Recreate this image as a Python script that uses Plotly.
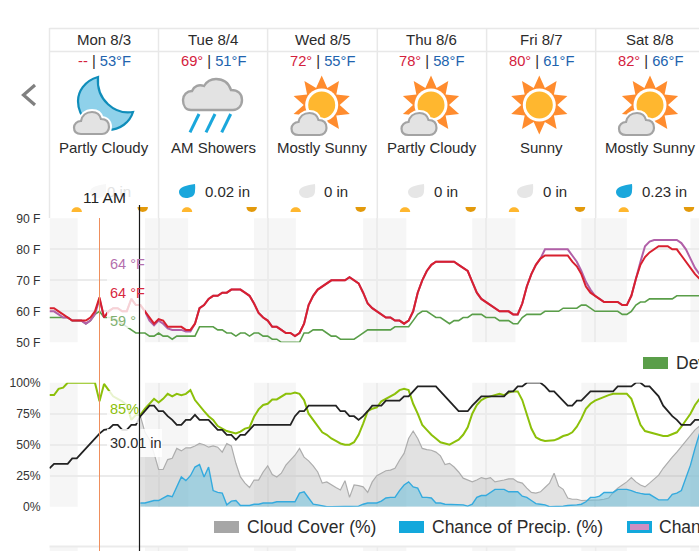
import math, re
import plotly.graph_objects as go

W, H = 699, 551
PX_PER_HOUR = 109.1 / 24
X0 = 49.5
FONT = "Liberation Sans, Arial, sans-serif"
INK = "#2b2b2b"

days = ["Mon 8/3", "Tue 8/4", "Wed 8/5", "Thu 8/6", "Fri 8/7", "Sat 8/8"]
highs = ["--", "69°", "72°", "78°", "80°", "82°"]
lows = ["53°F", "51°F", "55°F", "58°F", "61°F", "66°F"]
conditions = ["Partly Cloudy", "AM Showers", "Mostly Sunny", "Partly Cloudy", "Sunny", "Mostly Sunny"]
precip_totals = ["0 in", "0.02 in", "0 in", "0 in", "0 in", "0.23 in"]

temp_ticks = [50, 60, 70, 80, 90]
temp_labels = ["50 F", "60 F", "70 F", "80 F", "90 F"]
pct_ticks = [0, 25, 50, 75, 100]
pct_labels = ["0%", "25%", "50%", "75%", "100%"]

temperature = [61,61,60,59,58,57,57,57,57,58,60,64.5,58,60,61,61,60,60,64,62,62,60,58,56,57.5,57,55,55,55,55,54,54,56,61,62,64,65,65,66,66,
               67,67,67,66,65,62.5,59.5,58,57,55,55,54,53,53,52,53,56,62,65,67,68,69,70,70,70,70,71,70,69,66,62.5,61,60,59,58,58,57,57,56,57,
               60,66,70,73,75,76,76,76,76,76,75,74,73,69.5,66,64,63,62,61,60,60,60,59,59,62.5,68,72,75,77,78,78,78,78,78,78,76,74.5,72,68,66,
               65,64,63,63,63,63,62,62,65,70.5,75,77.5,79,80,81,81,81,80,80,78,76,74,72,70.5]
heat_index = [60,60,59,58,58,57,57,57,56,57,59,64,58,60,61,61,60,60,64,62,62,60,57,55.5,57,56,54.5,54,54,54,53.5,53.5,56,61,62,64,65,65,66,66,
              67,67,67,66,65,62.5,59.5,58,57,55,55,54,53,53,52,53,56,62,65,67,68,69,70,70,70,70,71,70,69,66,62.5,61,60,59,58,58,57,57,56,57,
              60,66,70,73,75,76,76,76,76,76,75,74,73,69.5,66,64,63,62,61,60,60,60,59,59,62.5,68,72,75,77,80,80,80,80,80,80,78,76,73,69.5,67,
              65,64,63,63,63,63,62,62,65,71,76,81,82.5,83,83,83,83,83,83,82,80,77,74,72]
dew_point = [58,58,58,58,58,57,57,57,56,57,59,60,58,58,58,57,56,55,54,53,53,53,52,52,53,52,52,51,52,52,52,52,52,55,55,55,55,54,54,53,
             53,52,53,53,52,53,53,52,52,51,51,50,50,50,50,50,53,53,54,54,54,53,52,52,51,51,51,51,52,53,54,54,54,54,54,54,55,55,55,55,
             57,59,60,60,59,58,58,57,56,57,57,58,58,59,59,59,58,58,58,57,57,57,56,56,58,59,59,59,59,60,60,60,60,61,61,61,61,62,62,61,
             60,60,60,60,60,60,59,59,60,62,63,63,64,64,64,64,64,64,65,65,65,65,65,65]
humidity = [90,90,95,96,100,100,100,100,100,100,100,85,99,94,89,87,85,82,70,74,74,79,83,87,84,87,91,89,91,90,91,94,86,81,77,73,70,65,63,61,
            60,59,60.5,63,64,72.5,78.5,82,83,86.5,86.5,89,91,91,92,91,86,75,70,65,60,58,55,53,51,50,50,52,58,67,77,79,80,85,87,89,91,94,95,94,
            83,75,66,62,58,55,52,51,50,52,54,58,64,75,82,86,88,89,90,91,90,92,93,93,86,75,63,56,54,53,53.5,53.5,55,57,58,60,64.5,71,79,83,
            85.5,87,89,90,91,91,91.5,91,87,77,66,61,60,58.5,58,57,57,58.5,60,64.5,70,75,82,87]
pressure_scaled = [31,34.5,34.5,34.5,34.5,39,39,43,47,51,55,59,62,62.5,66,66,62,62,66,66,73,77,81.5,81.5,77,77,73,70,66,66,70,70,74,70,70,70,66,62,62,58,
                   58,54,58,58,62,66,66,66,66,66,66,66,66,66,73,77,77,81.5,81.5,81.5,81.5,81.5,81.5,81.5,77,77,73,73,70,73,77,81.5,81.5,81.5,85.5,85.5,85.5,85.5,89,89,
                   93,97,97,97,97,97,93,89,85.5,81.5,77,77,77,81.5,85.5,89,89,89,89,89,89,93,93,97,97,100,100,100,100,97,93,93,89,85.5,81.5,81.5,85.5,85.5,89,93,
                   93,93,93,93,93,97,97,97,97,100,100,97,97,93,89,81.5,77,73,70,66,66,66,70,70]
forecast_start_hour = 20
cloud_cover = [73,60,54,43,30,30,38,39,47,45,47.5,47.5,49,51,50,48,49,48,44,51,49,35,24,19,15.5,21.5,21.5,28,33,26,24,27,33.5,37.5,41.5,47,40,37,33,28,19,20,17.5,15.5,13.5,21,7.5,17.5,17,16,11.5,20,25,27,29,29.5,31,37.5,43,55,61,55,47,46,45.5,44,41,34,35,32,28,23,21.5,20,21.5,23.5,22.5,23.5,20,20.5,21.5,22.5,22.5,20,19,15,11.5,11,12,15.5,19,27,16.5,14,7,6,6,5,5,5,5,5.5,6,7,11.5,15,17.5,20,23.5,20,17.5,16,19,22,25.5,31,36,40,44,48.5,53,58,62,65]
precip_chance = [3,3,4,5,5,7,9,8,16,24,21,25,32,34,24,32,13,11.5,11,1.5,4.5,5,1,1,1,2,2,3,3,3,4,4,4,4,4,11,12,7,2,1.5,0.5,0,0,0,0,0,0,0,0.5,2,3,3,3,4.5,7,7.5,7.5,13,17.5,20,16,15,7.5,7.5,7,3,3,2,2,2,2,1.5,0.5,2,7.5,9,9,11.5,14,14,14,12,12,12,8.5,7.5,5,2.5,2,1.5,0,0,0,0.5,1,1,1.5,2,4,7.5,7.5,8.5,11.5,11.5,11.5,14,14,14,13,11.5,10.7,10,10,8,5.5,5.5,5.5,10,11,13,24,33.5,47,59]
night_bands = [(0, 6.2), (21, 30.5), (45, 54.2), (69, 78.5), (93, 102.5), (117, 127), (141, 150)]
sunrise_x = [76.7, 187, 295.7, 405, 514, 623.7]
sunset_x = [142.7, 251.7, 360.7, 470.7, 580, 689]

hours = list(range(len(temperature)))
cloud_hours = [forecast_start_hour + i for i in range(len(cloud_cover))]
precip_hours = [forecast_start_hour + i for i in range(len(precip_chance))]

px = lambda x: x / W
py = lambda y: 1 - y / H


def paper_path(d):
    flag = [0]
    def repl(m):
        v = float(m.group(0))
        flag[0] += 1
        return f"{px(v):.5f}" if flag[0] % 2 else f"{py(v):.5f}"
    return re.sub(r"-?\d+\.?\d*", repl, d)


shapes = []
annotations = []


def add_path(d, fill="rgba(0,0,0,0)", line=None, width=0, layer="above"):
    shapes.append(dict(type="path", xref="paper", yref="paper", path=paper_path(d), fillcolor=fill,
                       line=dict(color=line or "rgba(0,0,0,0)", width=width), layer=layer))


def add_rect(x0, y0, x1, y1, fill, layer="above", opacity=1):
    shapes.append(dict(type="rect", xref="paper", yref="paper", x0=px(x0), x1=px(x1), y0=py(y1), y1=py(y0),
                       fillcolor=fill, line=dict(width=0), layer=layer, opacity=opacity))


def add_line(x0, y0, x1, y1, color, width, layer="above"):
    shapes.append(dict(type="line", xref="paper", yref="paper", x0=px(x0), x1=px(x1), y0=py(y0), y1=py(y1),
                       line=dict(color=color, width=width), layer=layer))


def add_text(x, y, text, size=14.5, color=INK, anchor="center"):
    annotations.append(dict(xref="paper", yref="paper", x=px(x), y=py(y), text=text, showarrow=False, xanchor=anchor,
                            yanchor="middle", font=dict(family=FONT, size=size, color=color), borderpad=0, align=anchor))


def small_cloud(x, y):
    a = [(8,23),(3,23),(1,20),(1,16.5),(1,13),(4,10),(8,10),(9,5),(13,1),(19,1),(24,1),(27,4),(28,8),(33,8),(36,11),(36,16),(36,20),(33,23),(29,23)]
    p = [(x + u - 1, y + v - 1) for u, v in a]
    d = f"M{p[0][0]},{p[0][1]}"
    for i in range(1, len(p), 3):
        d += f" C{p[i][0]},{p[i][1]} {p[i+1][0]},{p[i+1][1]} {p[i+2][0]},{p[i+2][1]}"
    d += " Z"
    add_path(d, fill="#ffffff", line="#ffffff", width=6)
    add_path(d, fill="#e3e3e3", line="#a3a3a3", width=2.2)


def sun(cx, cy):
    pts = []
    for i in range(20):
        r = 29.5 if i % 2 == 0 else 18
        t = math.radians(18 * i)
        pts.append((cx + r * math.sin(t), cy - r * math.cos(t)))
    add_path("M" + " L".join(f"{a:.1f},{b:.1f}" for a, b in pts) + " Z", fill="#ff8c2e")
    shapes.append(dict(type="circle", xref="paper", yref="paper", x0=px(cx-16.5), x1=px(cx+16.5), y0=py(cy+16.5), y1=py(cy-16.5),
                       fillcolor="#ffffff", line=dict(width=0), layer="above"))
    shapes.append(dict(type="circle", xref="paper", yref="paper", x0=px(cx-13.5), x1=px(cx+13.5), y0=py(cy+13.5), y1=py(cy-13.5),
                       fillcolor="#ffb72f", line=dict(width=0), layer="above"))


def drop(x, y, color):
    add_path(f"M{x+16},{y} C{x+16.5},{y+4} {x+16},{y+6} {x+16},{y+7} C{x+16},{y+12} {x+12},{y+14} {x+7},{y+14} "
             f"C{x+3},{y+14} {x},{y+11} {x},{y+8} C{x},{y+3} {x+8},{y+1} {x+16},{y} Z", fill=color)


for lo, hi in night_bands:
    shapes.append(dict(type="rect", xref="x", yref="y domain", x0=lo, x1=hi, y0=0, y1=1,
                       fillcolor="#f6f6f6", line=dict(width=0), layer="below"))
    shapes.append(dict(type="rect", xref="x2", yref="y2 domain", x0=lo, x1=hi, y0=0, y1=1,
                       fillcolor="#f6f6f6", line=dict(width=0), layer="below"))
    shapes.append(dict(type="rect", xref="x", yref="paper", x0=lo, x1=hi, y0=0, y1=py(547),
                       fillcolor="#f6f6f6", line=dict(width=0), layer="below"))

day_edges = [49.5, 158.5, 267.6, 377.3, 486.6, 595.7]
add_line(49.5, 28.5, 699, 28.5, "#e8e8e8", 1.5, "below")
add_line(49.5, 51.5, 699, 51.5, "#e8e8e8", 1.5, "below")
for e in day_edges:
    add_line(e, 28, e, 218, "#e8e8e8", 1.5, "below")
for e in day_edges[1:]:
    add_line(e, 547, e, 551, "#ececec", 1.5, "below")
add_line(49.5, 546.5, 699, 546.5, "#ebebeb", 2, "below")

add_path("M35,85 L23.5,95 L35,105", line="#808080", width=3.2)

centers = [104, 213, 322.5, 431.5, 541, 650]
for c, d, hi, lo, cond in zip(centers, days, highs, lows, conditions):
    add_text(c, 39.5, d, size=15)
    add_text(c, 61.5, f'<span style="color:#d4213d">{hi}</span> | <span style="color:#2163ae">{lo}</span>', size=14.7)
    add_text(c, 147.3, cond, size=15)

add_path("M98,77 C84,81 78,92 78,101 C78,118 93,130 108,130 C120,130 130,122 133,112 C115,115 96,100 98,77 Z",
         fill="#8fd1ea", line="#0f8dba", width=2.2)
small_cloud(74, 112)

add_path("M191,110 C186,110 183,106 183,100 C183,95 187,91 192,91 C194,86 199,84 204,86 C207,81 212,79 216,79 "
         "C224,79 229,84 231,90 C238,90 242,94 242,100 C242,106 238,110 233,110 Z", fill="#e3e3e3", line="#a3a3a3", width=2.4)
for x in (199, 215, 230.7):
    add_line(x, 114, x - 9, 132.3, "#1aa7dc", 3)

sun(321.7, 105); small_cloud(291.5, 113)
sun(431, 105); small_cloud(401.5, 113)
sun(539.3, 105)
sun(650, 105); small_cloud(619, 113)

drop_x = [90, 179, 299, 408, 517, 616]
text_x = [106, 204, 323.3, 432.7, 541.7, 640.7]
for i, (dx, tx, t) in enumerate(zip(drop_x, text_x, precip_totals)):
    filled = t != "0 in"
    faded = i == 0
    drop(dx, 184, "#f7f7f7" if faded else ("#1aa7dc" if filled else "#e6e6e6"))
    add_text(tx, 191.5, t, size=15, anchor="left", color="#e2e2e2" if faded else INK)

for x in sunrise_x:
    add_path(f"M{x-5.2},212 C{x-5.2},205.5 {x+5.2},205.5 {x+5.2},212 Z", fill="#ffb72f")
for x in sunset_x:
    add_path(f"M{x-5.2},207 C{x-5.2},213.5 {x+5.2},213.5 {x+5.2},207 Z", fill="#e39a0b")

add_rect(107, 255, 145, 328, "#ffffff", opacity=0.8)
add_rect(107, 391, 140, 423, "#ffffff", opacity=0.8)
add_rect(107, 429, 162, 457, "#ffffff", opacity=0.85)

add_line(99.5, 218, 99.5, 551, "#ef8f5d", 1)
add_line(139.5, 205, 139.5, 551, "#1a1a1a", 1.2)

add_text(104.5, 197, "11 AM", size=15.5, color="#222222")
add_text(109, 264, "64 °F", size=14.5, color="#b46fae", anchor="left")
add_text(109, 293, "64 °F", size=14.5, color="#d8283f", anchor="left")
add_text(109, 321, "59 °", size=14.5, color="#7fb06f", anchor="left")
add_text(109, 409, "85%", size=14.5, color="#8cc00a", anchor="left")
add_text(109, 443, "30.01 in", size=14.5, color="#2b2b2b", anchor="left")

add_rect(643, 357, 668, 369, "#5a9e49")
add_text(675, 363, "Dew Point (°F)", size=17.5, anchor="left")
add_rect(214, 521, 239, 533, "#a6a6a6")
add_text(245.7, 527, "Cloud Cover (%)", size=17.5, anchor="left")
add_rect(399, 521, 424, 533, "#13a8dc")
add_text(431, 527, "Chance of Precip. (%)", size=17.5, anchor="left")
add_rect(627, 521, 652, 533, "#13a8dc")
add_rect(630, 524, 649, 530, "#cf8fc2")
add_text(658, 527, "Chance of Precip. (in)", size=17.5, anchor="left")

fig = go.Figure()
common = dict(mode="lines", hoverinfo="skip", showlegend=False, cliponaxis=False)
fig.add_trace(go.Scatter(x=hours, y=dew_point, name="Dew Point", line=dict(color="#5a9e49", width=1.6), xaxis="x", yaxis="y", **common))
fig.add_trace(go.Scatter(x=hours, y=heat_index, name="Heat Index", line=dict(color="#b160a8", width=2), xaxis="x", yaxis="y", **common))
fig.add_trace(go.Scatter(x=hours, y=temperature, name="Temperature", line=dict(color="#d8202f", width=2), xaxis="x", yaxis="y", **common))

fig.add_trace(go.Scatter(x=cloud_hours, y=cloud_cover, name="Cloud Cover", fill="tozeroy", fillcolor="rgba(170,170,170,0.34)",
                         line=dict(color="#adadad", width=1.2), xaxis="x2", yaxis="y2", **common))
fig.add_trace(go.Scatter(x=precip_hours, y=precip_chance, name="Chance of Precip.", fill="tozeroy", fillcolor="rgba(100,190,220,0.5)",
                         line=dict(color="#34aade", width=1.4), xaxis="x2", yaxis="y2", **common))
fig.add_trace(go.Scatter(x=hours, y=humidity, name="Relative Humidity", line=dict(color="#8cc00a", width=2), xaxis="x2", yaxis="y2", **common))
fig.add_trace(go.Scatter(x=hours, y=pressure_scaled, name="Pressure", line=dict(color="#222222", width=1.8), xaxis="x2", yaxis="y2", **common))

x_range = [0, (W - X0) / PX_PER_HOUR]
x_axis = dict(range=x_range, domain=[X0 / W, 1], tickvals=[24 * i for i in range(7)], showticklabels=False, ticks="",
              showgrid=True, gridcolor="#ececec", gridwidth=1.5, zeroline=False, showline=False, fixedrange=True, automargin=False)
y_axis = dict(showgrid=True, gridcolor="#ebebeb", gridwidth=2, zeroline=False, showline=False, ticks="outside", ticklen=5.5,
              tickcolor="rgba(0,0,0,0)", tickfont=dict(family=FONT, size=12.2, color="#333333"), fixedrange=True, automargin=False)

fig.update_layout(
    width=W, height=H, margin=dict(l=0, r=0, t=0, b=0, autoexpand=False), paper_bgcolor="#ffffff", plot_bgcolor="#ffffff",
    xaxis=dict(x_axis, anchor="y"),
    xaxis2=dict(x_axis, anchor="y2"),
    yaxis=dict(y_axis, domain=[py(342.3), py(218.3)], range=[50, 90], tickvals=temp_ticks, ticktext=temp_labels, anchor="x"),
    yaxis2=dict(y_axis, domain=[py(506.7), py(382.7)], range=[0, 100], tickvals=pct_ticks, ticktext=pct_labels, anchor="x2"),
    shapes=shapes, annotations=annotations, showlegend=False, hovermode=False,
)
fig.write_html("out.html", config=dict(displayModeBar=False, responsive=False),
               post_script="document.body.style.margin='0';document.body.style.overflow='hidden';")
